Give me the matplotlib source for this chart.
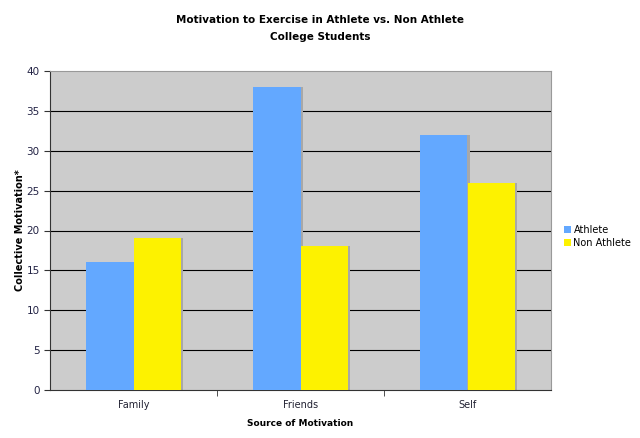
import matplotlib
matplotlib.use("Agg")
import matplotlib.pyplot as plt
import numpy as np

categories = ["Family", "Friends", "Self"]
athlete = [16, 38, 32]
non_athlete = [19, 18, 26]
series_names = ["Athlete", "Non Athlete"]

plt.rcParams['font.family'] = ['DejaVu Sans']

fig = plt.figure(figsize=(6.4, 4.38), dpi=100)
ax = fig.add_axes([50/640, 48/438, 501/640, 319/438])
ax.set_facecolor('#cccccc')

x = np.arange(len(categories))
w = 0.285
blue = '#63a8ff'
yellow = '#fdf200'
# shadows
ax.bar(x - w/2 + 0.012, athlete, w, color='#a8a8a8', zorder=2)
ax.bar(x + w/2 + 0.012, non_athlete, w, color='#a8a8a8', zorder=2)
ax.bar(x - w/2, athlete, w, color=blue, zorder=3, label=series_names[0])
ax.bar(x + w/2, non_athlete, w, color=yellow, zorder=3, label=series_names[1])

ax.set_xlim(-0.5, 2.5)
ax.set_ylim(0, 40)
ax.set_yticks(range(0, 41, 5))
for yv in range(5, 40, 5):
    ax.axhline(yv, color='black', lw=0.8, zorder=1)
ax.set_xticks(x)
ax.set_xticklabels(categories, fontsize=7, color='#222233')
ax.set_xticks([0.5, 1.5], minor=True)
ax.tick_params(axis='x', which='major', length=0, pad=7)
ax.tick_params(axis='x', which='minor', length=4, direction='out', color='#333333')
ax.tick_params(axis='y', labelsize=7.5, length=4, color='#333333', labelcolor='#222244')

for s in ['top', 'right']:
    ax.spines[s].set_color('#999999')
for s in ['left', 'bottom']:
    ax.spines[s].set_color('#333333')

fig.text(0.5, 1 - 15/438, "Motivation to Exercise in Athlete vs. Non Athlete\nCollege Students",
         ha='center', va='top', fontsize=7.5, fontweight='bold', linespacing=1.9)
ax.set_xlabel("Source of Motivation", fontsize=6.5, fontweight='bold', labelpad=7)
ax.set_ylabel("Collective Motivation*", fontsize=7, fontweight='bold', labelpad=1)

leg = fig.legend(loc='upper left', bbox_to_anchor=(555/640, 1 - 216/438), frameon=False,
                 fontsize=7, handlelength=0.7, handleheight=0.7, handletextpad=0.3,
                 labelspacing=0.35)

fig.savefig("out.png", dpi=100)
